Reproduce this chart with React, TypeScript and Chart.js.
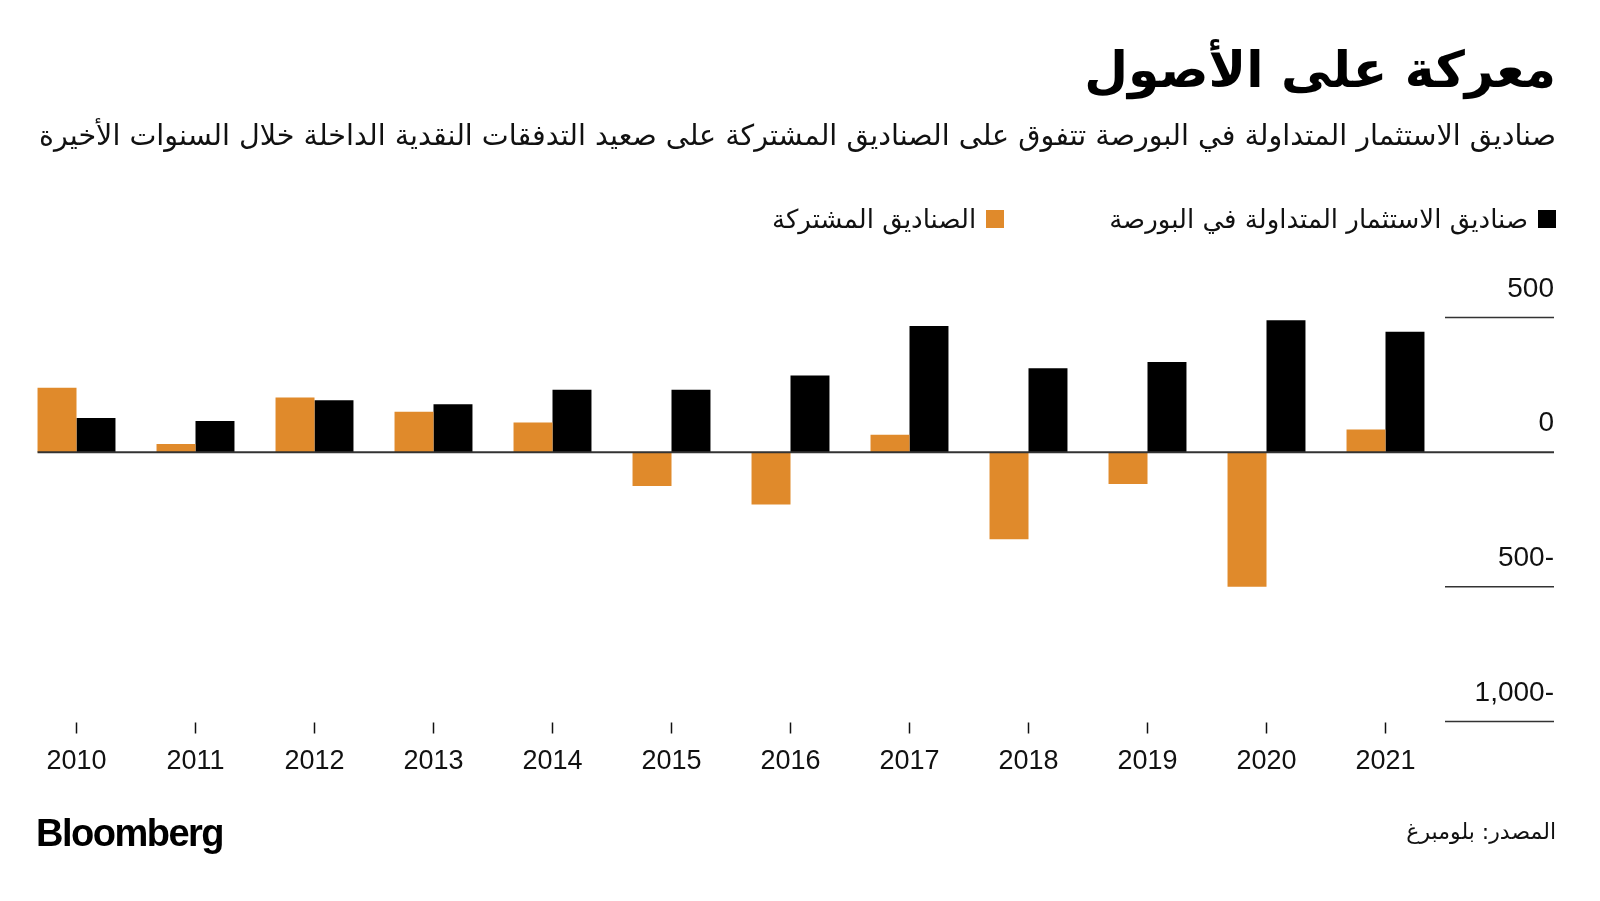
import React, { useEffect, useRef } from "react";
import { Chart, registerables } from "chart.js";

Chart.register(...registerables);

const years = ["2010", "2011", "2012", "2013", "2014", "2015", "2016", "2017", "2018", "2019", "2020", "2021"];
const mutualFundFlows = [239, 30, 203, 150, 110, -126, -194, 65, -323, -118, -500, 84];
const etfFlows = [127, 116, 193, 178, 232, 232, 285, 468, 312, 335, 490, 447];
const yTickValues = [500, 0, -500, -1000];
const yTickLabels = ["500", "0", "500-", "1,000-"];

const titleText = "معركة على الأصول";
const subtitleText = "صناديق الاستثمار المتداولة في البورصة تتفوق على الصناديق المشتركة على صعيد التدفقات النقدية الداخلة خلال السنوات الأخيرة";
const etfLabel = "صناديق الاستثمار المتداولة في البورصة";
const mutualLabel = "الصناديق المشتركة";
const sourceText = "المصدر: بلومبرغ";

const ORANGE = "#E08A2B";
const BLACK = "#000000";
const GRID_RIGHT = 1554;
const ARABIC_FONT = "'DejaVu Sans', 'Noto Sans', sans-serif";
const LATIN_FONT = "'Liberation Sans', Arial, sans-serif";

const overlayPlugin = {
  id: "overlay",
  afterDatasetsDraw(chart: any) {
    const { ctx, chartArea } = chart;
    const x = chart.scales.x;
    const y = chart.scales.y;
    ctx.save();
    // zero line across the chart
    const meta = chart.getDatasetMeta(0);
    const first = meta.data[0];
    const left = first.x - first.width / 2;
    const y0 = y.getPixelForValue(0);
    ctx.strokeStyle = "#333333";
    ctx.lineWidth = 2;
    ctx.beginPath();
    ctx.moveTo(left, y0);
    ctx.lineTo(GRID_RIGHT, y0);
    ctx.stroke();
    // right-side gridlines and labels
    ctx.font = `28px ${LATIN_FONT}`;
    ctx.fillStyle = "#111111";
    ctx.textAlign = "right";
    ctx.textBaseline = "middle";
    yTickValues.forEach((v, i) => {
      const py = y.getPixelForValue(v);
      if (v !== 0) {
        ctx.lineWidth = 1.5;
        ctx.strokeStyle = "#333333";
        ctx.beginPath();
        ctx.moveTo(chartArea.right, py);
        ctx.lineTo(GRID_RIGHT, py);
        ctx.stroke();
      }
      ctx.fillText(yTickLabels[i], GRID_RIGHT, py - 28.5);
    });
    // x ticks and labels
    ctx.font = `27px ${LATIN_FONT}`;
    ctx.textAlign = "center";
    ctx.strokeStyle = "#111111";
    ctx.lineWidth = 1.5;
    years.forEach((yr, i) => {
      const px = x.getPixelForValue(i);
      ctx.beginPath();
      ctx.moveTo(px, chartArea.bottom + 1);
      ctx.lineTo(px, chartArea.bottom + 12);
      ctx.stroke();
      ctx.fillText(yr, px, chartArea.bottom + 40);
    });
    ctx.restore();
  },
};

export default function App() {
  const canvasRef = useRef<HTMLCanvasElement | null>(null);

  useEffect(() => {
    if (!canvasRef.current) return;
    const chart = new Chart(canvasRef.current, {
      type: "bar",
      data: {
        labels: years,
        datasets: [
          {
            label: mutualLabel,
            data: mutualFundFlows,
            backgroundColor: ORANGE,
            borderWidth: 0,
            categoryPercentage: 0.655,
            barPercentage: 1,
          },
          {
            label: etfLabel,
            data: etfFlows,
            backgroundColor: BLACK,
            borderWidth: 0,
            categoryPercentage: 0.655,
            barPercentage: 1,
          },
        ],
      },
      options: {
        responsive: false,
        animation: false,
        layout: { padding: { left: 17, right: 155, top: 317.5, bottom: 179.5 } },
        plugins: { legend: { display: false }, tooltip: { enabled: false } },
        scales: {
          x: { display: false, offset: true },
          y: { display: false, min: -1000, max: 500 },
        },
      },
      plugins: [overlayPlugin],
    });
    return () => chart.destroy();
  }, []);

  const abs: React.CSSProperties = { position: "absolute", whiteSpace: "nowrap", margin: 0 };

  return (
    <div style={{ position: "absolute", left: 0, top: 0, width: 1600, height: 901, background: "#fff", overflow: "hidden" }}>
      <canvas ref={canvasRef} width={1600} height={901} style={{ position: "absolute", left: 0, top: 0, width: 1600, height: 901 }} />
      <div dir="rtl" style={{ ...abs, right: 44, top: 40, fontSize: 50.5, lineHeight: "60px", fontWeight: "bold", fontFamily: ARABIC_FONT, color: "#000" }}>
        {titleText}
      </div>
      <div dir="rtl" style={{ ...abs, right: 44, top: 118, fontSize: 28.6, lineHeight: "34px", fontFamily: ARABIC_FONT, color: "#111" }}>
        {subtitleText}
      </div>
      <div dir="rtl" style={{ ...abs, right: 44, top: 203, fontSize: 26, lineHeight: "32px", fontFamily: ARABIC_FONT, color: "#111", display: "flex", alignItems: "center" }}>
        <span style={{ display: "inline-block", width: 18, height: 18, background: BLACK, marginLeft: 10 }} />
        <span>{etfLabel}</span>
        <span style={{ display: "inline-block", width: 18, height: 18, background: ORANGE, marginLeft: 10, marginRight: 105 }} />
        <span>{mutualLabel}</span>
      </div>
      <div style={{ ...abs, left: 36, top: 811, fontSize: 38, lineHeight: "44px", fontWeight: "bold", fontFamily: LATIN_FONT, letterSpacing: "-1.5px", color: "#000" }}>
        Bloomberg
      </div>
      <div dir="rtl" style={{ ...abs, right: 44, top: 818, fontSize: 22, lineHeight: "28px", fontFamily: ARABIC_FONT, color: "#111" }}>
        {sourceText}
      </div>
    </div>
  );
}
